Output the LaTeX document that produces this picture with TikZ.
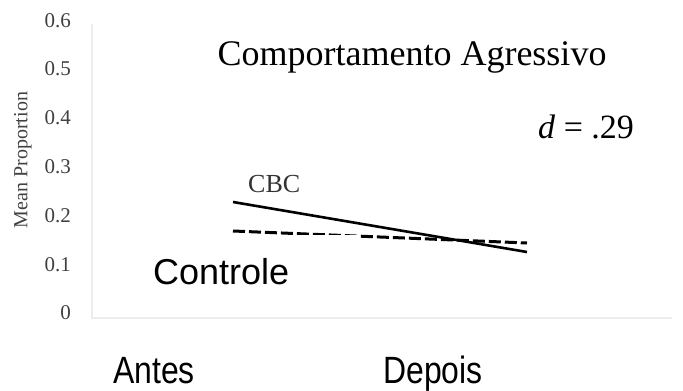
\documentclass[tikz,border=0pt]{standalone}
\usepackage{fontspec}
\setmainfont{Liberation Serif}
\newfontfamily\arialfont{Liberation Sans}
\usepackage{tikz}
\usetikzlibrary{calc}

\tikzset{
    axisline/.style={gray!15, line width=1.2pt},
    ticklabel/.style={anchor=east, inner sep=0pt, text=gray!50!black, font=\fontsize{21}{21}\selectfont},
    biglabel/.style={anchor=base, inner sep=0pt, xscale=0.84, font=\arialfont\fontsize{38}{38}\selectfont},
}

\begin{document}
\begin{tikzpicture}[x=1pt, y=-1pt]
        \useasboundingbox (0,0) rectangle (683,391);
        \draw[axisline] (92,24)--(92,318)--(672,318);
        \foreach \v/\t in {0/0, 1/0.1, 2/0.2, 3/0.3, 4/0.4, 5/0.5, 6/0.6}
            \node[ticklabel] (tick\v) at (71, 313-48.8*\v) {\t};
        \node[rotate=90, text=gray!50!black, font=\fontsize{20}{20}\selectfont] (ylabel) at (23,160) {Mean Proportion};

        \node[anchor=base, inner sep=0pt, font=\fontsize{36}{36}\selectfont] (title) at (412,65) {Comportamento Agressivo};
        \node[anchor=base west, inner sep=0pt, font=\fontsize{34}{34}\selectfont] (effect) at (538,138) {\textit{d} = .29};

        \coordinate (cbcAntes) at (233,202);
        \coordinate (cbcDepois) at (527,252);
        \coordinate (ctrlAntes) at (233,231);
        \coordinate (ctrlDepois) at (527,243);
        \draw[line width=3pt, dash pattern=on 12pt off 4pt] (ctrlAntes)--(ctrlDepois);
        \node[anchor=base west, inner sep=0pt, fill=white, text height=49pt, text width=204pt, font=\arialfont\fontsize{36}{36}\selectfont] (controle) at (153,284) {Controle};
        \draw[line width=2.6pt] (cbcAntes)--(cbcDepois);
        \node[anchor=base west, inner sep=0pt, text=black!80, font=\fontsize{26}{26}\selectfont] (cbc) at (248,192) {CBC};

        \node[biglabel] (antes) at (154,383) {Antes};
        \node[biglabel] (depois) at (433,383) {Depois};
    \end{tikzpicture}
\end{document}
